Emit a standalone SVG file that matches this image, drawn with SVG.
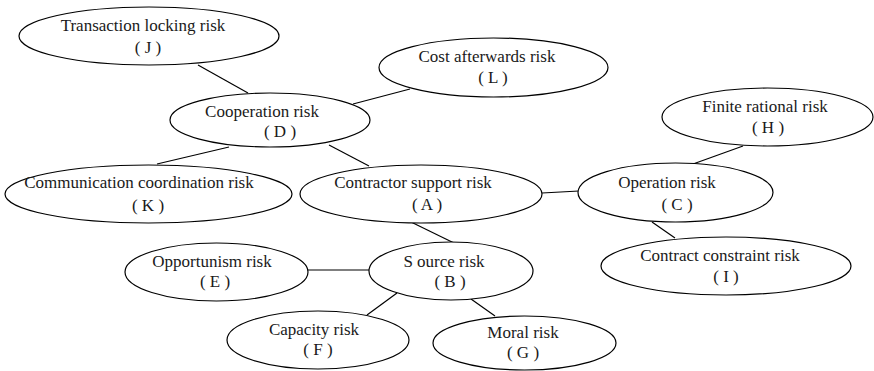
<svg xmlns="http://www.w3.org/2000/svg" width="874" height="371" viewBox="0 0 874 371">
  <style>
    .node ellipse { fill: #ffffff; stroke: #000000; stroke-width: 1.2; }
    .node text { font-family: "Liberation Serif", "Times New Roman", serif; font-size: 17px; fill: #1a1a1a; text-anchor: middle; }
    #links line { stroke: #000000; stroke-width: 1.2; }
  </style>
  <rect width="874" height="371" fill="#ffffff"/>

  <!-- connectors between risk factors -->
  <g id="links">
    <line x1="198" y1="65" x2="248" y2="93"/>
    <line x1="410" y1="89" x2="353" y2="104"/>
    <line x1="229" y1="147" x2="157" y2="164"/>
    <line x1="329" y1="145" x2="369" y2="166"/>
    <line x1="542" y1="193" x2="579" y2="191"/>
    <line x1="743" y1="146" x2="693" y2="164"/>
    <line x1="652" y1="222" x2="675" y2="238"/>
    <line x1="411" y1="222" x2="454" y2="243"/>
    <line x1="308" y1="270" x2="369" y2="270"/>
    <line x1="397" y1="293" x2="367" y2="315"/>
    <line x1="471" y1="299" x2="495" y2="316"/>
  </g>

  <g id="node-J" class="node">
    <ellipse cx="149" cy="36" rx="130" ry="29"/>
    <text x="143" y="31">Transaction locking risk</text>
    <text x="148" y="53">( J )</text>
  </g>
  <g id="node-L" class="node">
    <ellipse cx="493.5" cy="67.5" rx="114.5" ry="29.5"/>
    <text x="487" y="62">Cost afterwards risk</text>
    <text x="493" y="83">( L )</text>
  </g>
  <g id="node-D" class="node">
    <ellipse cx="270" cy="120" rx="100" ry="27"/>
    <text x="262" y="117">Cooperation risk</text>
    <text x="280" y="137">( D )</text>
  </g>
  <g id="node-H" class="node">
    <ellipse cx="767.5" cy="117" rx="105.5" ry="29"/>
    <text x="765" y="112">Finite rational risk</text>
    <text x="768" y="133">( H )</text>
  </g>
  <g id="node-K" class="node">
    <ellipse cx="148.5" cy="194" rx="143.5" ry="29"/>
    <text x="139" y="188">Communication coordination risk</text>
    <text x="148" y="211">( K )</text>
  </g>
  <g id="node-A" class="node">
    <ellipse cx="421" cy="194" rx="121" ry="29"/>
    <text x="413" y="188">Contractor support risk</text>
    <text x="427" y="210">( A )</text>
  </g>
  <g id="node-C" class="node">
    <ellipse cx="675.5" cy="192.5" rx="97.5" ry="29.5"/>
    <text x="667" y="188">Operation risk</text>
    <text x="677" y="210">( C )</text>
  </g>
  <g id="node-I" class="node">
    <ellipse cx="726" cy="266" rx="125" ry="29"/>
    <text x="720" y="261">Contract constraint risk</text>
    <text x="726" y="282">( I )</text>
  </g>
  <g id="node-E" class="node">
    <ellipse cx="216.5" cy="272" rx="91.5" ry="29"/>
    <text x="212" y="267">Opportunism risk</text>
    <text x="215" y="287">( E )</text>
  </g>
  <g id="node-B" class="node">
    <ellipse cx="451" cy="271" rx="82" ry="29"/>
    <text x="444" y="267">S ource risk</text>
    <text x="450" y="287">( B )</text>
  </g>
  <g id="node-F" class="node">
    <ellipse cx="318" cy="340" rx="91" ry="29"/>
    <text x="314" y="335">Capacity risk</text>
    <text x="318" y="355">( F )</text>
  </g>
  <g id="node-G" class="node">
    <ellipse cx="524.5" cy="343" rx="91.5" ry="27"/>
    <text x="523" y="338">Moral risk</text>
    <text x="523" y="358">( G )</text>
  </g>
</svg>
